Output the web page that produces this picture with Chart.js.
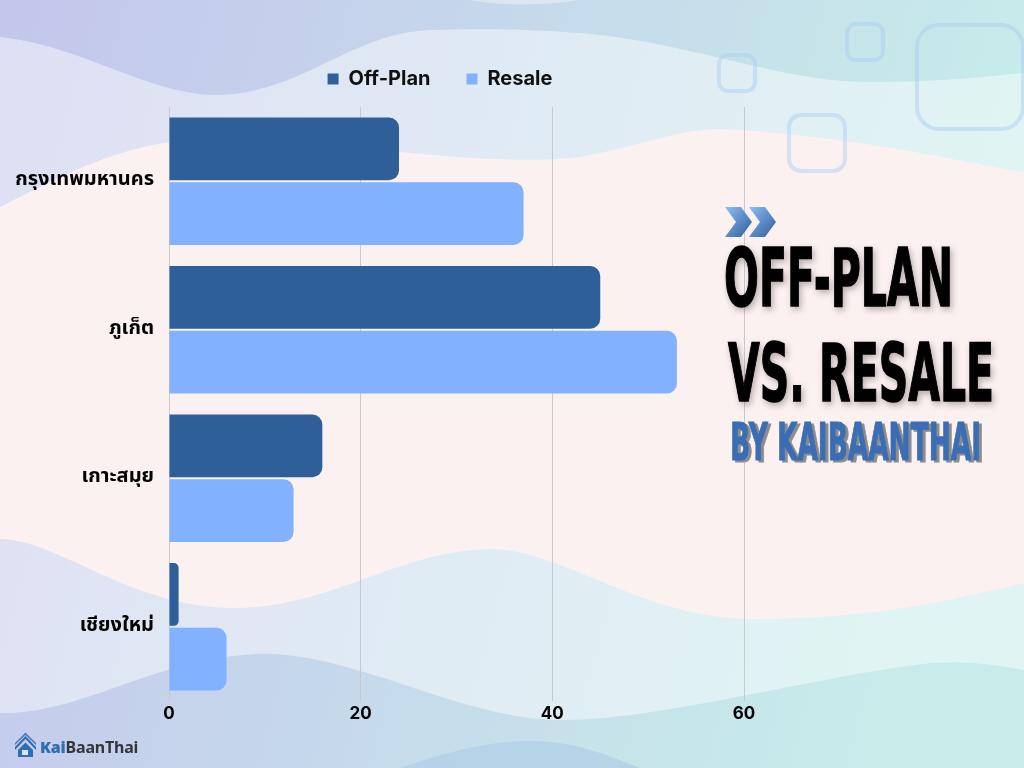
<!DOCTYPE html>
<html lang="th">
<head>
<meta charset="UTF-8">
<script src="https://cdn.jsdelivr.net/npm/chart.js"></script>
<title>Off-Plan vs. Resale</title>
<style>
    html, body { margin: 0; padding: 0; }
    body { width: 1024px; height: 768px; overflow: hidden; position: relative; font-family: Inter, "Noto Sans", sans-serif; }
    #bg, #fg { position: absolute; left: 0; top: 0; }
    #chartBox { position: absolute; left: 0; top: 0; width: 1024px; height: 768px; }
    .logo { position: absolute; left: 40px; top: 736px; font: bold 16px "Noto Sans", Inter, sans-serif; color: #33363b; letter-spacing: -0.2px; }
    .logo b { color: #2f6db5; }
</style>
</head>
<body>
<!-- background decoration -->
<svg id="bg" width="1024" height="768" viewBox="0 0 1024 768">
    <defs>
        <linearGradient id="base" x1="0" y1="0" x2="1" y2="0.2">
            <stop offset="0" stop-color="#c4c6ec"/>
            <stop offset="1" stop-color="#c7ecea"/>
        </linearGradient>
    </defs>
    <rect width="1024" height="768" fill="url(#base)"/>
    <path d="M470,0 C500,6 540,6 580,0 Z" fill="#ffffff" opacity="0.35"/>
    <path d="M0,37 C80,45 150,95 215,95 C300,95 350,33 430,30 C500,28 540,30 580,33 C690,42 780,82 870,82 C950,82 1000,75 1024,73
             L1024,670 C980,662 950,660 915,665 C800,680 650,722 555,720 C450,716 350,650 255,654 C150,660 80,715 0,713 Z"
          fill="#ffffff" opacity="0.45"/>
    <path d="M0,207 C70,172 120,145 190,140 C300,134 480,170 580,157 C640,146 680,129 720,129 C850,135 950,160 1024,172
             L1024,583 C950,600 870,620 745,619 C640,616 560,549 490,549 C400,550 330,608 235,608 C130,608 60,540 0,539 Z"
          fill="#fbf1f1"/>
    <path d="M400,768 C460,748 495,741 530,741 C570,741 600,752 640,768 Z" fill="#b3cfe6" opacity="0.8"/>
    <g fill="none" stroke="#a9cdf2" stroke-opacity="0.45" stroke-width="4">
        <rect x="719" y="55" width="36" height="36" rx="9"/>
        <rect x="847" y="24" width="36" height="36" rx="9"/>
        <rect x="789" y="115" width="56" height="56" rx="12"/>
        <rect x="917" y="25" width="106" height="104" rx="22"/>
    </g>
</svg>

<div id="chartBox"><canvas id="barChart" width="1024" height="768"></canvas></div>

<!-- title block -->
<svg id="fg" width="1024" height="768" viewBox="0 0 1024 768">
    <defs>
        <linearGradient id="chev" x1="0" y1="0" x2="1" y2="1">
            <stop offset="0" stop-color="#8fbdf7"/>
            <stop offset="1" stop-color="#2d5c9a"/>
        </linearGradient>
    </defs>
    <path d="M725,207 L741,207 L752,222 L741,237 L725,237 L736,222 Z" fill="url(#chev)"/>
    <path d="M749,207 L765,207 L776,222 L765,237 L749,237 L760,222 Z" fill="url(#chev)"/>
    <g font-family="'DejaVu Sans', sans-serif" font-weight="bold" stroke="#000" stroke-width="1.6"
       style="filter: drop-shadow(2px 3px 3px rgba(60,40,40,0.35))">
        <text x="724" y="306" font-size="81" textLength="229" lengthAdjust="spacingAndGlyphs" fill="#000">OFF-PLAN</text>
        <text x="728" y="401" font-size="80" textLength="266" lengthAdjust="spacingAndGlyphs" fill="#000">VS. RESALE</text>
    </g>
    <text x="730" y="460" font-family="'DejaVu Sans', sans-serif" font-weight="bold" font-size="51" textLength="251"
          lengthAdjust="spacingAndGlyphs" fill="#3a6db4" stroke="#3a6db4" stroke-width="1"
          style="filter: drop-shadow(3px 2px 0 #8c8c8c)">BY KAIBAANTHAI</text>
    <!-- logo icon -->
    <g fill="#2f6db5">
        <path d="M15,747 L25.5,736 L36,747 L36,750 L25.5,739 L15,750 Z"/>
        <path d="M15,743 L25.5,732.5 L36,743 L36,745 L25.5,735 L15,745 Z" opacity="0.85"/>
        <path d="M18,750 L25.5,742.5 L33,750 L33,757 L18,757 Z"/>
    </g>
    <rect x="22" y="750" width="6" height="5" fill="#dfe3f3"/>
</svg>
<div class="logo"><b>Kai</b>BaanThai</div>

<script>
    // ข้อมูลกราฟ
    const categories = ['กรุงเทพมหานคร', 'ภูเก็ต', 'เกาะสมุย', 'เชียงใหม่'];
    const offPlanValues = [24, 45, 16, 1];
    const resaleValues = [37, 53, 13, 6];
    const xMin = 0;
    const xMax = 60;
    const xStep = 20;

    const thaiFont = "'Noto Sans Thai', 'Noto Sans Thai Looped', Loma, Garuda, Kinnari, 'Noto Sans', 'DejaVu Sans', sans-serif";

    // legend: fixed height, and centred over x 136..744
    const legendTweak = {
        id: 'legendTweak',
        beforeInit(chart) {
            const origFit = chart.legend.fit;
            chart.legend.fit = function fit() {
                origFit.bind(chart.legend)();
                this.height = 74;
            };
        },
        afterLayout(chart) {
            chart.legend.left = 136;
        }
    };

    const ctx = document.getElementById('barChart').getContext('2d');
    const chart = new Chart(ctx, {
        type: 'bar',
        data: {
            labels: categories,
            datasets: [
                {
                    label: 'Off-Plan',
                    data: offPlanValues,
                    backgroundColor: '#2e5f99',
                    borderRadius: 10,
                    borderSkipped: 'start'
                },
                {
                    label: 'Resale',
                    data: resaleValues,
                    backgroundColor: '#82b2ff',
                    borderRadius: 10,
                    borderSkipped: 'start'
                }
            ]
        },
        options: {
            indexAxis: 'y',
            responsive: false,
            animation: false,
            devicePixelRatio: 1,
            categoryPercentage: 0.87,
            barPercentage: 0.97,
            layout: {
                padding: { left: 0, right: 280, top: 33, bottom: 0 }
            },
            plugins: {
                legend: {
                    position: 'top',
                    labels: {
                        boxWidth: 11,
                        boxHeight: 11,
                        padding: 36,
                        color: '#111',
                        font: { family: "Inter, 'Noto Sans', sans-serif", size: 20, weight: 'bold' }
                    }
                },
                tooltip: { enabled: false }
            },
            scales: {
                x: {
                    min: xMin,
                    max: xMax,
                    ticks: {
                        stepSize: xStep,
                        padding: 3,
                        color: '#000',
                        font: { family: "Inter, 'Noto Sans', sans-serif", size: 17, weight: 'bold' }
                    },
                    grid: { color: '#c9c9cd', lineWidth: 1, drawTicks: false },
                    border: { display: false },
                    afterFit(scale) { scale.height = 67; }
                },
                y: {
                    ticks: {
                        padding: 15,
                        color: '#000',
                        font: { family: thaiFont, size: 20, weight: 'bold' }
                    },
                    grid: { display: false, drawTicks: false },
                    border: { display: false },
                    afterFit(scale) { scale.width = 169; }
                }
            }
        },
        plugins: [legendTweak]
    });
</script>
</body>
</html>
